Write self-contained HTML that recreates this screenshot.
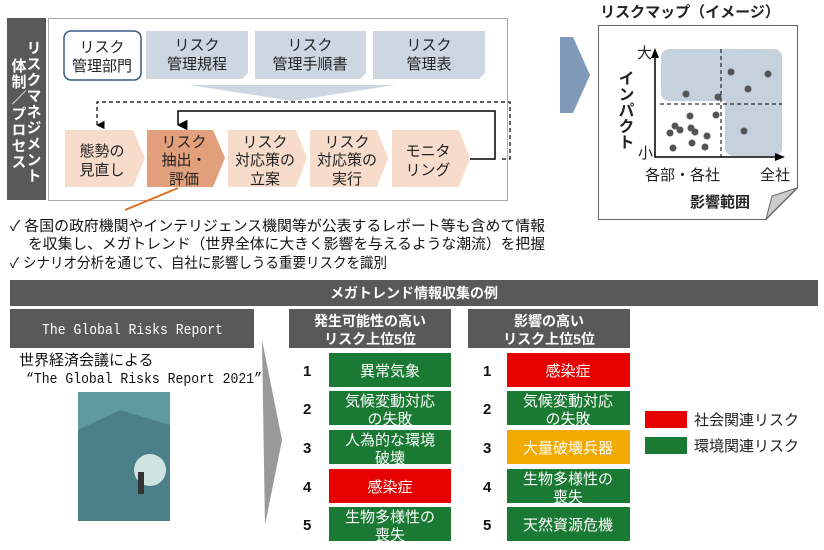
<!DOCTYPE html>
<html><head><meta charset="utf-8"><style>
body{margin:0;background:#fff;}
svg{display:block;font-family:"Liberation Sans","Noto Sans CJK JP",sans-serif;}
</style></head><body>
<svg width="824" height="550" viewBox="0 0 824 550" xmlns="http://www.w3.org/2000/svg">
<defs><marker id="ah" viewBox="0 0 10 10" refX="5" refY="9" markerWidth="7" markerHeight="7" orient="auto"><path d="M0,0 L10,0 L5,10z" fill="#000"/></marker></defs>
<rect x="7" y="18" width="39" height="182" fill="#595959"/>
<text fill="#fff" font-size="15" font-weight="bold" writing-mode="tb" x="33" y="40" letter-spacing="1">リスクマネジメント</text>
<text fill="#fff" font-size="15" font-weight="bold" writing-mode="tb" x="18" y="58" letter-spacing="1">体制／プロセス</text>
<rect x="48.5" y="18.5" width="459" height="182" fill="#fff" stroke="#aaa"/>
<rect x="64" y="31" width="77" height="49" rx="7" fill="#fff" stroke="#3b5a85" stroke-width="1.5"/>
<g fill="#cdd7e2">
<path d="M146,31 H248 V73 L242,79 H146z"/><path d="M255,31 H366 V73 L360,79 H255z"/><path d="M373,31 H485 V73 L479,79 H373z"/>
<path d="M190,85 H395 L292,101z"/></g>
<g font-size="15" text-anchor="middle" fill="#222">
<text x="102" y="52">リスク</text><text x="102" y="71">管理部門</text>
<text x="197" y="50">リスク</text><text x="197" y="69">管理規程</text>
<text x="310" y="50">リスク</text><text x="310" y="69">管理手順書</text>
<text x="429" y="50">リスク</text><text x="429" y="69">管理表</text></g>
<path d="M502,159 H510 V102 H97 V125" fill="none" stroke="#000" stroke-dasharray="4,3" stroke-width="1.2" marker-end="url(#ah)"/>
<path d="M470,159 H495 V111 H178 V125" fill="none" stroke="#000" stroke-width="1.5" marker-end="url(#ah)"/>
<g fill="#f7dccb">
<path d="M65,130 H133 L145,158 L133,187 H65z"/>
<path d="M228,130 H296 L307,158 L296,187 H228z"/>
<path d="M310,130 H377 L388,158 L377,187 H310z"/>
<path d="M392,130 H459 L470,158 L459,187 H392z"/></g>
<path d="M147,130 H213 L225,158 L213,187 H147z" fill="#e1a07b"/>
<g font-size="15" text-anchor="middle" fill="#222">
<text x="102" y="156">態勢の</text><text x="102" y="175">見直し</text>
<text x="184" y="147">リスク</text><text x="184" y="165">抽出・</text><text x="184" y="184">評価</text>
<text x="265" y="147">リスク</text><text x="265" y="165">対応策の</text><text x="265" y="184">立案</text>
<text x="347" y="147">リスク</text><text x="347" y="165">対応策の</text><text x="347" y="184">実行</text>
<text x="428" y="156">モニタ</text><text x="428" y="175">リング</text></g>
<line x1="178" y1="188" x2="125" y2="210" stroke="#e07020" stroke-width="2"/>
<g font-size="14.5" fill="#111">
<text x="10" y="231" textLength="535" lengthAdjust="spacingAndGlyphs">✓ 各国の政府機関やインテリジェンス機関等が公表するレポート等も含めて情報</text>
<text x="28" y="249" textLength="517" lengthAdjust="spacingAndGlyphs">を収集し、メガトレンド（世界全体に大きく影響を与えるような潮流）を把握</text>
<text x="10" y="268" textLength="377" lengthAdjust="spacingAndGlyphs">✓ シナリオ分析を通じて、自社に影響しうる重要リスクを識別</text></g>
<path d="M560,37 H573 L590,75 L573,113 H560z" fill="#7f9ab9"/>
<text x="690" y="17" font-size="15" font-weight="bold" text-anchor="middle" fill="#222">リスクマップ（イメージ）</text>
<path d="M598.5,25.5 H797.5 V188 L766,219.5 H598.5z" fill="#fff" stroke="#666"/>
<path d="M797,188 L766,219 L772,196z" fill="#ccc" stroke="#666"/>
<rect x="661" y="49" width="121" height="52" rx="8" fill="#c6d1de"/>
<rect x="725" y="60" width="57" height="96" rx="8" fill="#c6d1de"/>
<line x1="721" y1="49" x2="721" y2="157" stroke="#000" stroke-dasharray="4,3"/>
<line x1="660" y1="104" x2="782" y2="104" stroke="#000" stroke-dasharray="4,3"/>
<path d="M655,50 V157 H780" fill="none" stroke="#000" stroke-width="1.5"/>
<path d="M651,58 L655,48 L659,58z M775,153 L785,157 L775,161z" fill="#000"/>
<g fill="#555">
<circle cx="731" cy="72" r="3.5"/><circle cx="768" cy="74" r="3.5"/><circle cx="748" cy="89" r="3.5"/><circle cx="686" cy="94" r="3.5"/><circle cx="718" cy="97" r="3.5"/><circle cx="690" cy="116" r="3.5"/><circle cx="716" cy="115" r="3.5"/><circle cx="675" cy="126" r="3.5"/><circle cx="680" cy="130" r="3.5"/><circle cx="670" cy="133" r="3.5"/><circle cx="691" cy="128" r="3.5"/><circle cx="695" cy="132" r="3.5"/><circle cx="707" cy="136" r="3.5"/><circle cx="692" cy="143" r="3.5"/><circle cx="673" cy="148" r="3.5"/><circle cx="705" cy="147" r="3.5"/><circle cx="744" cy="131" r="3.5"/></g>
<g font-size="15" fill="#222">
<text x="637" y="58">大</text><text x="638" y="158">小</text>
<text x="645" y="180">各部・各社</text><text x="760" y="180">全社</text>
<text x="690" y="207" font-weight="bold">影響範囲</text>
<text writing-mode="tb" x="624" y="70" font-weight="bold" font-size="16">インパクト</text></g>
<rect x="10" y="280" width="808" height="26" fill="#595959"/>
<text x="414" y="298" font-size="14" font-weight="bold" fill="#fff" text-anchor="middle">メガトレンド情報収集の例</text>
<rect x="10" y="309" width="244" height="39" fill="#595959"/>
<text x="42" y="334" font-size="15" fill="#fff" font-family="Liberation Mono,monospace" textLength="181" lengthAdjust="spacingAndGlyphs">The Global Risks Report</text>
<text x="19" y="365" font-size="15" fill="#111">世界経済会議による</text>
<text x="26" y="383" font-size="14.5" fill="#111" font-family="Liberation Mono,monospace" textLength="236" lengthAdjust="spacingAndGlyphs">“The Global Risks Report 2021”</text>
<rect x="78" y="392" width="92" height="129" fill="#5f9aa0"/>
<path d="M78,430 L120,410 L170,425 V521 H78z" fill="#4b8088"/>
<circle cx="150" cy="470" r="16" fill="#cfe3e0"/>
<rect x="138" y="472" width="6" height="22" fill="#333"/>
<path d="M262,340 L282,440 L265,525z" fill="#999"/>
<rect x="289" y="309" width="162" height="39" fill="#595959"/>
<rect x="468" y="309" width="162" height="39" fill="#595959"/>
<g font-size="14" font-weight="bold" fill="#fff" text-anchor="middle">
<text x="370" y="326">発生可能性の高い</text><text x="370" y="344">リスク上位5位</text>
<text x="549" y="326">影響の高い</text><text x="549" y="344">リスク上位5位</text></g>
<g fill="#1a7a33">
<rect x="329" y="353" width="122" height="34"/><rect x="329" y="391" width="122" height="34"/><rect x="329" y="430" width="122" height="34"/><rect x="329" y="507" width="122" height="34"/>
<rect x="507" y="391" width="123" height="34"/><rect x="507" y="469" width="123" height="34"/><rect x="507" y="507" width="123" height="34"/>
<rect x="645" y="437" width="42" height="17"/></g>
<g fill="#e60000"><rect x="329" y="469" width="122" height="34"/><rect x="507" y="353" width="123" height="34"/><rect x="645" y="411" width="42" height="17"/></g>
<rect x="507" y="430" width="123" height="34" fill="#f2a900"/>
<g font-size="15" font-weight="bold" fill="#111">
<text x="303" y="376">1</text><text x="303" y="414">2</text><text x="303" y="453">3</text><text x="303" y="492">4</text><text x="303" y="530">5</text>
<text x="483" y="376">1</text><text x="483" y="414">2</text><text x="483" y="453">3</text><text x="483" y="492">4</text><text x="483" y="530">5</text></g>
<g font-size="15" fill="#fff" text-anchor="middle">
<text x="390" y="376">異常気象</text>
<text x="390" y="406">気候変動対応</text><text x="390" y="424">の失敗</text>
<text x="390" y="445">人為的な環境</text><text x="390" y="463">破壊</text>
<text x="390" y="492">感染症</text>
<text x="390" y="522">生物多様性の</text><text x="390" y="540">喪失</text>
<text x="568" y="376">感染症</text>
<text x="568" y="406">気候変動対応</text><text x="568" y="424">の失敗</text>
<text x="568" y="453">大量破壊兵器</text>
<text x="568" y="484">生物多様性の</text><text x="568" y="502">喪失</text>
<text x="568" y="530">天然資源危機</text></g>
<g font-size="15" fill="#222"><text x="694" y="425">社会関連リスク</text><text x="694" y="451">環境関連リスク</text></g>
</svg>
</body></html>
